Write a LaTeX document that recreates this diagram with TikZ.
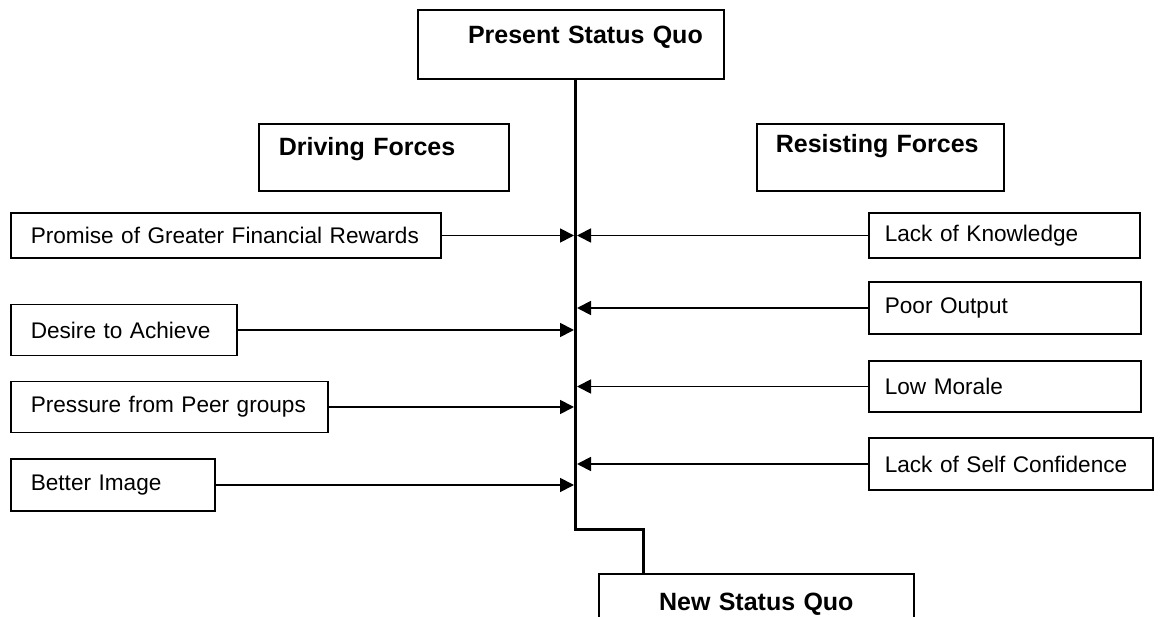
\documentclass[tikz,border=0pt]{standalone}
\usepackage{fontspec}
\setmainfont{Liberation Sans}
\usetikzlibrary{arrows.meta}
\tikzset{>={Triangle[length=14pt,width=14pt]}}
\tikzset{
  titlebox/.style={draw, line width=1.6pt, rectangle, anchor=north west,
                   font=\fontsize{25}{30}\selectfont\bfseries, text height=25pt},
  forcebox/.style={draw, line width=1.6pt, rectangle, anchor=west,
                   font=\fontsize{22.6}{27}\selectfont, align=left},
  force/.style={->, line width=1.8pt},
  mainline/.style={line width=3pt}
}

\begin{document}
\begin{tikzpicture}[x=1pt,y=-1pt]
  \useasboundingbox (0,0) rectangle (1160,617);
  \clip (0,0) rectangle (1160,617);
  % titles
  \node[titlebox, inner xsep=21pt, inner ysep=9pt, text width=264pt, align=right,
        text depth=26pt] (present) at (417,9) {Present Status Quo};
  \node[titlebox, inner xsep=20pt, inner ysep=7pt, text width=210pt, align=left,
        text depth=28pt] (driving) at (258,123) {Driving Forces};
  \node[titlebox, inner xsep=19pt, inner ysep=4pt, text width=209pt, align=left,
        text depth=34pt] (resisting) at (756,123) {Resisting Forces};
  \node[titlebox, inner xsep=20pt, inner ysep=12pt, text width=275pt, align=center,
        text depth=21pt] (new) at (598,573) {New Status Quo};
  % the status quo line
  \coordinate (top) at (575,78);
  \coordinate (bend) at (575,529);
  \coordinate (jog) at (643,529);
  \draw[mainline] (top) -- (bend) -- (jog) -- (jog |- new.north);
  % driving forces
  \foreach \nm/\yy/\tw/\hh/\txt in {promise/235.5/390/45/Promise of Greater Financial Rewards,
                                    desire/330/186/51/Desire to Achieve,
                                    peer/407/277/51/Pressure from Peer groups,
                                    image/485/164/52/Better Image}
  {
    \node[forcebox, inner xsep=20pt, text width=\tw pt, minimum height=\hh pt] (\nm) at (10,\yy) {\mbox{\txt}};
    \coordinate (\nm tip) at (574,\yy);
    \draw[force] (\nm.east) -- (\nm tip);
  }
  % resisting forces
  \foreach \nm/\yy/\tw/\hh/\txt in {knowledge/235.5/239/45/Lack of Knowledge,
                                    output/308/240/52/Poor Output,
                                    morale/386.5/240/51/Low Morale,
                                    confidence/464/252/52/Lack of Self Confidence}
  {
    \node[forcebox, inner xsep=16pt, text width=\tw pt, minimum height=\hh pt] (\nm) at (868,\yy) {\mbox{\txt}};
    \coordinate (\nm tip) at (577,\yy);
    \draw[force] (\nm.west) -- (\nm tip);
  }
\end{tikzpicture}
\end{document}
